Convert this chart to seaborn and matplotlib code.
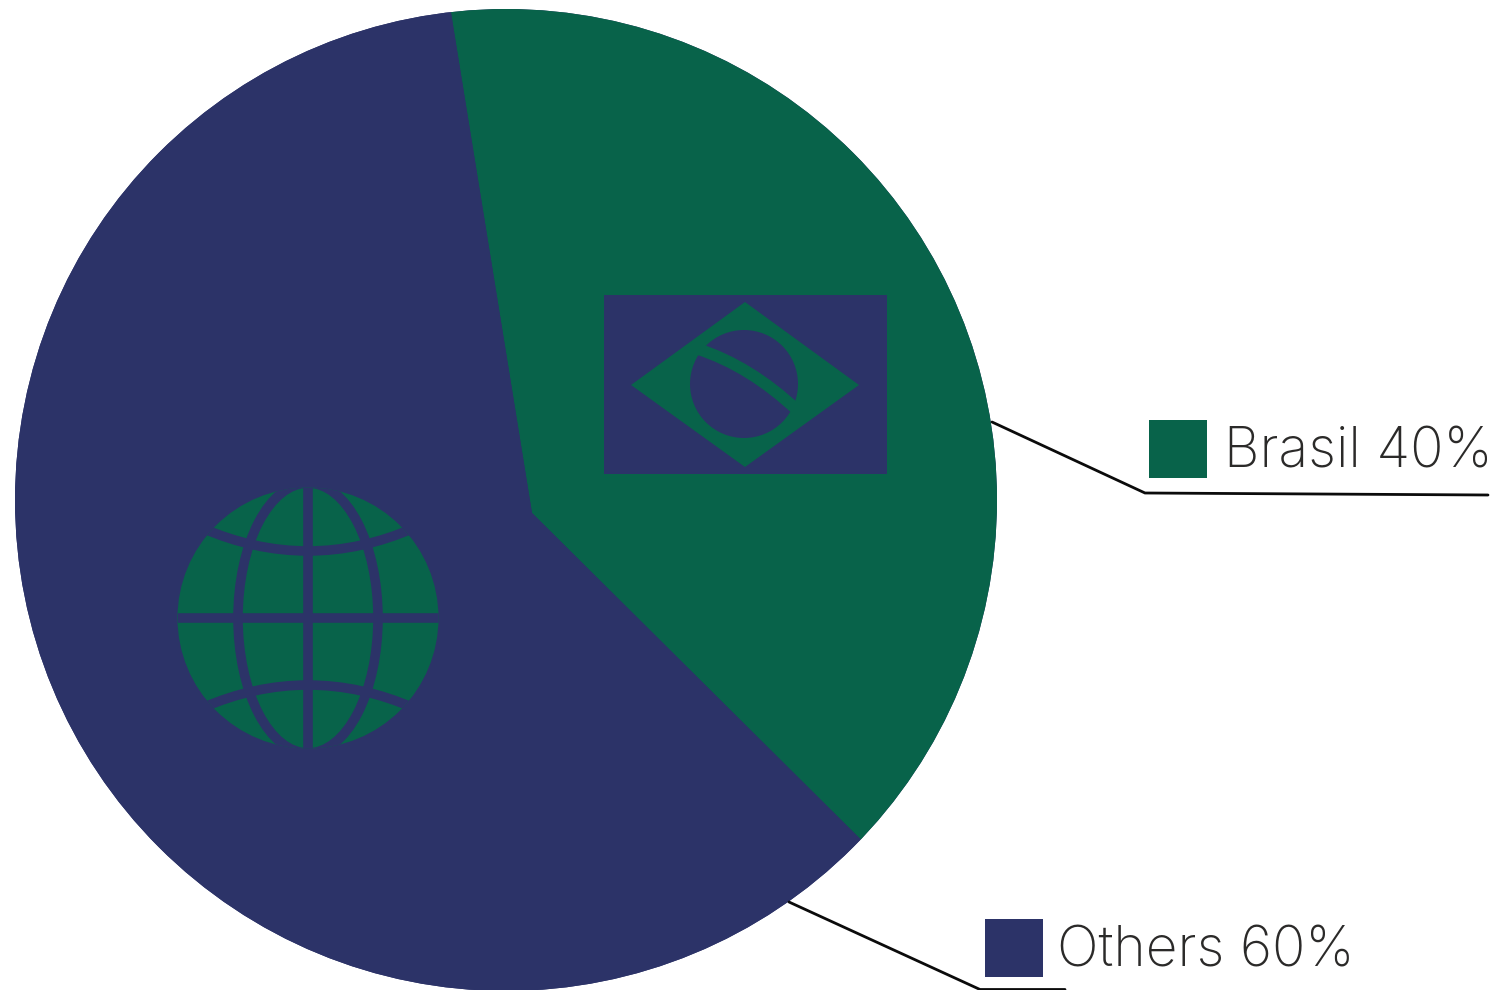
import matplotlib
matplotlib.use("Agg")
import matplotlib.pyplot as plt
import numpy as np
import seaborn as sns
from matplotlib.patches import Circle, Ellipse, PathPatch, Polygon, Rectangle
from matplotlib.path import Path

# Market share data
categories = ["Brasil", "Others"]
shares = [40, 60]
palette = sns.color_palette(["#08634A", "#2C3368"])
GREEN, NAVY = palette
INK = "#2B2A29"

W, H = 1495, 990
sns.set_theme(style="white")
plt.rcParams["font.family"] = ["Inter", "DejaVu Sans"]

fig = plt.figure(figsize=(W / 100, H / 100), dpi=100, facecolor="white")
ax = fig.add_axes([0, 0, 1, 1])


def Y(py):
    """Convert a top-down pixel row to the upward axis used by the pie."""
    return H - py


# The slices meet off-centre and are trimmed by the outer disc
wedges, _ = ax.pie(
    shares,
    colors=palette,
    startangle=-44.8,
    center=(532, Y(513)),
    radius=800,
    wedgeprops={"linewidth": 0},
)
ax.set_xlim(0, W)
ax.set_ylim(0, H)
ax.set_aspect("equal")
ax.axis("off")

disc = Circle((506, Y(500)), 491, fc=NAVY, ec="none", zorder=0)
ax.add_patch(disc)
for w in wedges:
    w.set_clip_on(True)
    w.set_clip_path(disc)

# Flag icon on the Brasil slice
ax.add_patch(Rectangle((604, Y(474)), 283, 179, fc=NAVY, ec="none", zorder=3))
ax.add_patch(Polygon([(631, Y(385)), (745, Y(302)), (859, Y(385)), (745, Y(467))],
                     closed=True, fc=GREEN, ec="none", zorder=4))
ax.add_patch(Circle((744, Y(384)), 54, fc=NAVY, ec="none", zorder=5))
band = Path([(698, Y(349)), (750, Y(366)), (797, Y(410))],
            [Path.MOVETO, Path.CURVE3, Path.CURVE3])
ax.add_patch(PathPatch(band, fc="none", ec=GREEN, lw=8.4, capstyle="butt", zorder=6))

# Globe icon on the Others slice
gx, gy, gr = 308, 618, 130.5
lw_globe = 6.9
globe = Circle((gx, Y(gy)), gr, fc=GREEN, ec="none", zorder=3)
ax.add_patch(globe)
grid_lines = [
    ax.plot([gx - gr, gx + gr], [Y(gy)] * 2, color=NAVY, lw=lw_globe, zorder=4,
            solid_capstyle="butt")[0],
    ax.plot([gx] * 2, [Y(gy - gr), Y(gy + gr)], color=NAVY, lw=lw_globe, zorder=4,
            solid_capstyle="butt")[0],
]
meridian = Ellipse((gx, Y(gy)), 140, 270, fc="none", ec=NAVY, lw=lw_globe, zorder=4)
ax.add_patch(meridian)
meridian.set_clip_path(globe)
for end_row, ctrl_row in [(528, 574), (708, 662)]:
    arc = Path([(gx - 106, Y(end_row)), (gx, Y(ctrl_row)), (gx + 106, Y(end_row))],
               [Path.MOVETO, Path.CURVE3, Path.CURVE3])
    patch = PathPatch(arc, fc="none", ec=NAVY, lw=lw_globe, capstyle="butt", zorder=4)
    ax.add_patch(patch)
    patch.set_clip_path(globe)
for line in grid_lines:
    line.set_clip_path(globe)

# Leader lines
ax.plot([992, 1145, 1488], [Y(422), Y(493), Y(495)], color="#0B0B0B", lw=2.0,
        solid_joinstyle="miter", zorder=2)
ax.plot([789, 980, 1065], [Y(902), Y(989.5), Y(989.5)], color="#0B0B0B", lw=2.0,
        solid_joinstyle="miter", zorder=2)

# Legend swatches with labels
key_boxes = [(1149, 420), (985, 919)]
text_starts = [(1224, 467), (1057, 966)]
for name, share, colour, (bx, by), (tx, ty) in zip(categories, shares, palette,
                                                   key_boxes, text_starts):
    ax.add_patch(Rectangle((bx, Y(by + 58)), 58, 58, fc=colour, ec="none", zorder=3))
    ax.text(tx, Y(ty), f"{name} {share}%", fontsize=39.7, fontweight="light",
            color=INK, ha="left", va="baseline", zorder=3)

fig.savefig("out.png", dpi=100, facecolor="white")
